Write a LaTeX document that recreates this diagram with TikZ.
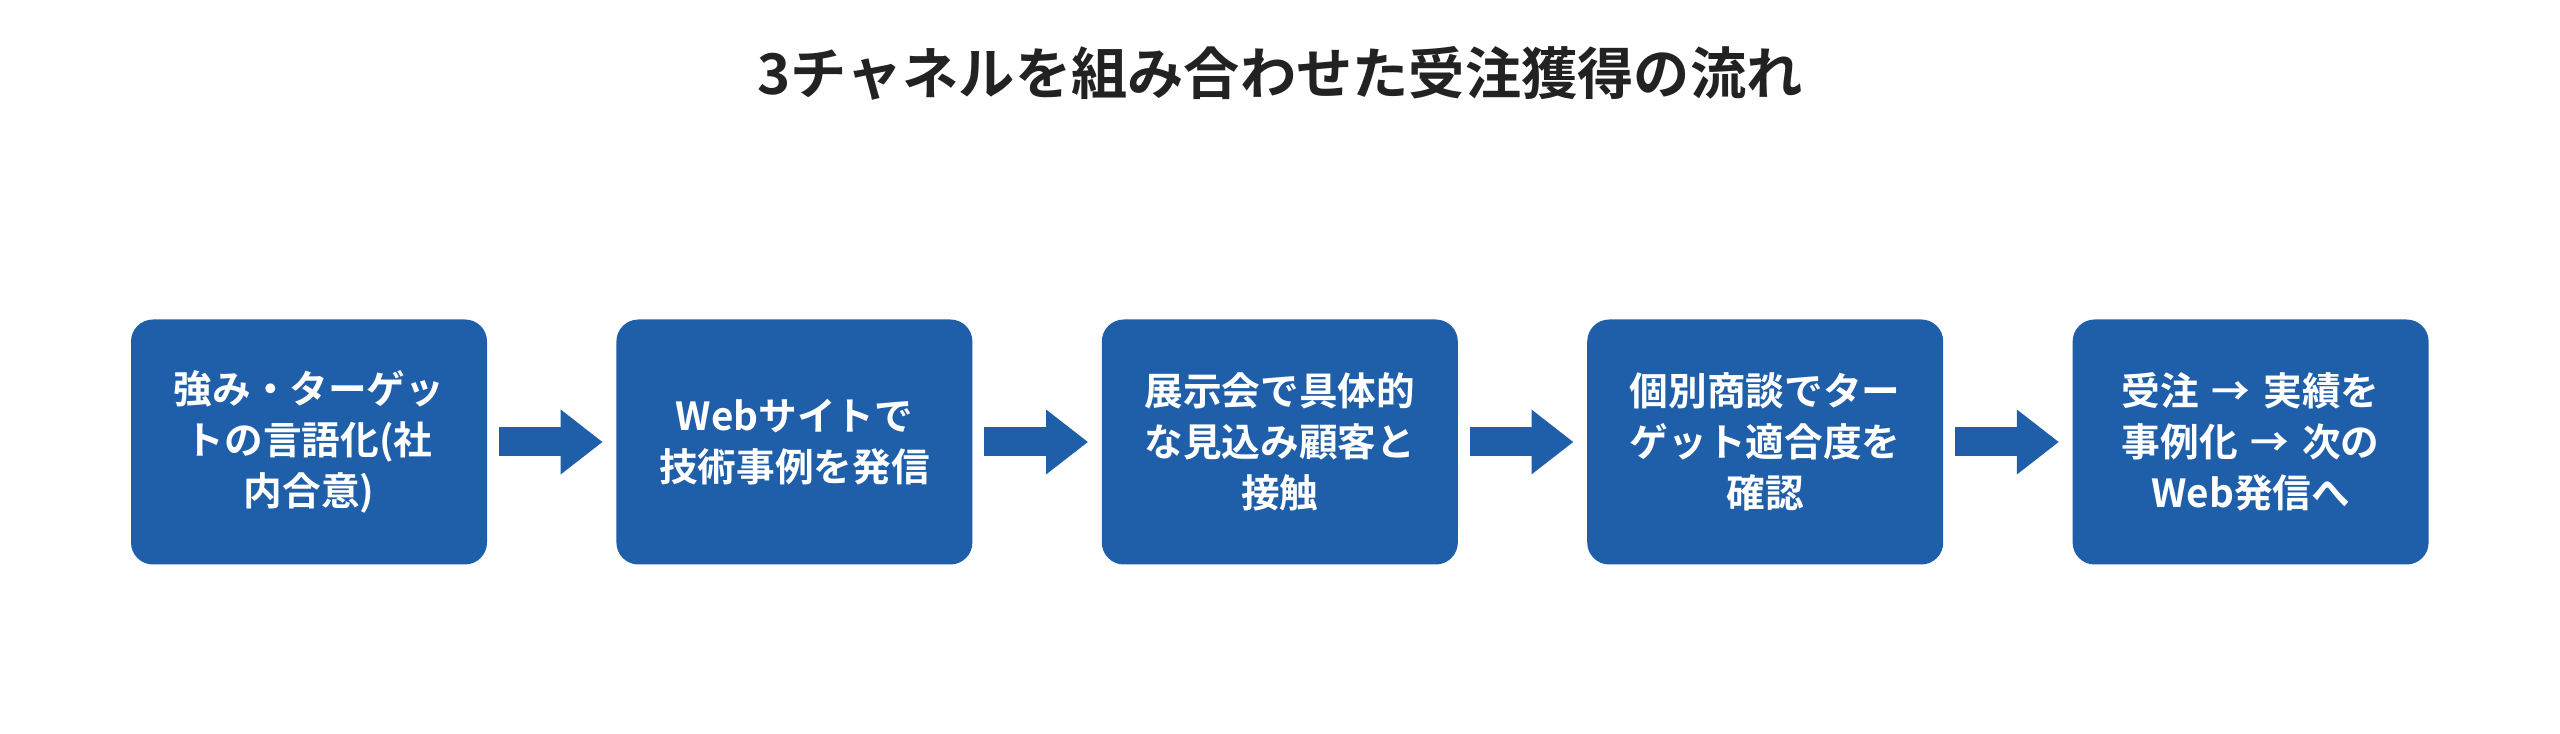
\documentclass[tikz,border=0pt]{standalone}
\usepackage{fontspec}
\setmainfont{Noto Sans CJK JP}[BoldFont={* Bold}]
\usetikzlibrary{positioning, arrows.meta}
\definecolor{stepblue}{HTML}{1F5EA8}
\definecolor{titlegray}{HTML}{222222}
\tikzset{
stage/.style={rectangle, rounded corners=0.22cm, fill=stepblue, text=white,
  minimum width=3.56cm, minimum height=2.45cm, text width=3.3cm, align=center,
  font=\bfseries\fontsize{11}{14.5}\selectfont}, % one box per stage
flow/.style={stepblue, line width=0.29cm, -{Triangle[length=0.42cm,width=0.62cm]}},
node distance=1.28cm,
}
\begin{document}
\begin{tikzpicture}
\useasboundingbox (0,0) rectangle (25.6,7.33);
\node[font=\bfseries\fontsize{16}{20}\selectfont, text=titlegray] (title) at (12.8,6.6) {3チャネルを組み合わせた受注獲得の流れ};
\node[stage] (s1) at (3.09,2.91) {強み・ターゲッ\\トの言語化(社\\内合意)};
\node[stage, right=of s1] (s2) {Webサイトで\\技術事例を発信};
\node[stage, right=of s2] (s3) {展示会で具体的\\な見込み顧客と\\接触};
\node[stage, right=of s3] (s4) {個別商談でター\\ゲット適合度を\\確認};
\node[stage, right=of s4] (s5) {受注 → 実績を\\事例化 → 次の\\Web発信へ};
\foreach \a/\b in {s1/s2, s2/s3, s3/s4, s4/s5}
  \draw[flow] ([xshift=0.11cm]\a.east) -- ([xshift=-0.13cm]\b.west);
\end{tikzpicture}
\end{document}
